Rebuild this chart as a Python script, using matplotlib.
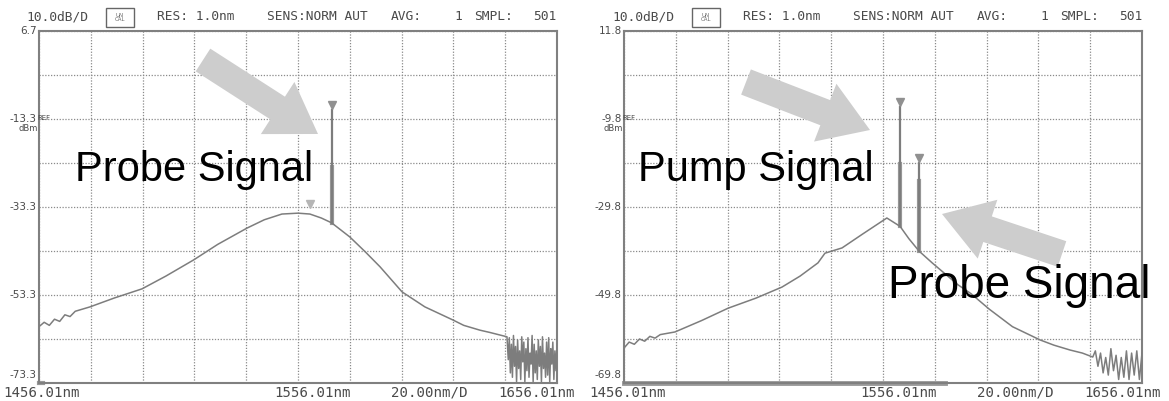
import matplotlib
matplotlib.use("Agg")
import matplotlib.pyplot as plt
from matplotlib.patches import Polygon, Rectangle
import numpy as np

W, H = 1169, 401

# ---------------- data ----------------
# Left panel: ASE spectrum with probe signal
left_wl = [1456.0, 1458, 1460, 1462, 1464, 1466, 1468, 1470, 1475.7, 1485, 1495.8,
           1505, 1515.8, 1525, 1536.3, 1543, 1549.8, 1556, 1560.6, 1565, 1569.0,
           1576, 1582, 1587.7, 1596.2, 1605, 1615.9, 1620, 1626.3, 1630, 1636.7,
           1637.2, 1637.6, 1638, 1638.4, 1638.8, 1639.2, 1639.6, 1640, 1640.4, 1640.8,
           1641.2, 1641.6, 1642, 1642.4, 1642.8, 1643.2, 1643.6, 1644, 1644.4, 1644.8,
           1645.2, 1645.6, 1646, 1646.4, 1646.8, 1647.2, 1647.6, 1648, 1648.4, 1648.8,
           1649.2, 1649.6, 1650, 1650.4, 1650.8, 1651.2, 1651.6, 1652, 1652.4, 1652.8,
           1653.2, 1653.6, 1654, 1654.4, 1654.8, 1655.2, 1655.6, 1656.0]
left_db = [-60.5, -59.5, -60.2, -58.8, -59.3, -57.8, -58.2, -57.0, -56.0, -54.0, -51.9,
           -49.0, -45.3, -41.8, -38.1, -36.2, -34.9, -34.7, -34.9, -35.8, -36.9,
           -40.1, -43.5, -46.9, -52.6, -56.0, -59.0, -60.2, -61.3, -61.8, -62.8,
           -68, -63, -71, -64.5, -72, -62.5, -69.5, -65, -73, -63.5,
           -70, -66, -72.5, -62.8, -68.5, -64, -73, -65.5, -70.5, -63,
           -72, -66.5, -69, -62.5, -73, -64.5, -71, -66, -72.5, -63.5,
           -69.5, -65, -73, -62.8, -70, -66.5, -72, -64, -71.5, -63,
           -73, -65.5, -69, -64, -72.5, -66, -70.5, -64.5]
left_probe_wl, left_probe_base, left_probe_peak = 1569.0, -36.9, -11.3
left_marker2 = (1560.6, -32.6)

# Right panel: spectrum with pump and probe signals
right_wl = [1456.4, 1458, 1460, 1462, 1464, 1466, 1468, 1470, 1475.7, 1486, 1496.2,
            1507, 1517.0, 1524, 1530.9, 1533.6, 1540.2, 1548, 1557.5, 1562.6, 1566,
            1569.9, 1575, 1585, 1590, 1597, 1606, 1616.6, 1622, 1628.2, 1633, 1637,
            1638, 1639, 1640, 1641, 1642, 1643, 1644, 1645, 1646, 1647, 1648, 1649,
            1650, 1651, 1652, 1653, 1654, 1655, 1656]
right_db = [-61.6, -60.5, -61.0, -59.8, -60.3, -59.2, -59.6, -58.8, -58.2, -55.6, -52.8,
            -50.5, -48.0, -45.5, -42.5, -40.3, -39.1, -36.0, -32.3, -34.2, -37.0,
            -39.8, -42.5, -47.5, -49.5, -53.0, -57.0, -60.0, -61.2, -62.3, -63.0, -63.9,
            -62.5, -66, -63, -67.5, -64, -68, -62, -67, -63.5, -69, -64, -68.5,
            -62.5, -69, -63, -68, -62.5, -69, -63]
pump_wl, pump_base, pump_peak = 1562.6, -34.2, -7.1
right_probe_wl, right_probe_base, right_probe_peak = 1569.9, -39.8, -19.8

left_ylabels = ["6.7", "-13.3", "-33.3", "-53.3", "-73.3"]
right_ylabels = ["11.8", "-9.8", "-29.8", "-49.8", "-69.8"]
left_ylim = (-73.3, 6.7)
right_ylim = (-69.8, 10.2)
x_labels = ["1456.01nm", "1556.01nm", "20.00nm/D", "1656.01nm"]
header = ["10.0dB/D", "RES: 1.0nm", "SENS:NORM AUT", "AVG:", "1", "SMPL:", "501"]

TRACE = "#7d7d7d"
GRID = "#8a8a8a"
LABC = "#4a4a4a"
ARROW = "#cdcdcd"

fig = plt.figure(figsize=(W / 100, H / 100), dpi=100)
fig.patch.set_facecolor("white")


def fx(x):
    return x / W


def fy(y):
    return 1 - y / H


def make_axes(x0):
    return fig.add_axes([fx(x0), (H - 383) / H, 518 / W, 352 / H])


def setup(ax, ylim, ylabels):
    ax.set_xlim(1456.01, 1656.01)
    ax.set_ylim(*ylim)
    ax.set_xticks(np.linspace(1456.01, 1656.01, 11))
    ax.set_yticks(np.linspace(ylim[1], ylim[0], 9))
    ax.set_yticklabels([])
    ax.set_xticklabels([])
    ax.tick_params(length=0, pad=1)
    ax.grid(True, color=GRID, linestyle=(0, (1, 1.3)), linewidth=0.9)
    for s in ax.spines.values():
        s.set_color("#808080")
        s.set_linewidth(1.5)
    ax.set_axisbelow(True)
    # y labels every two divisions, placed like the OSA screen
    vals = np.linspace(ylim[1], ylim[0], 5)
    for i, (v, lab) in enumerate(zip(vals, ylabels)):
        if i == 0:
            va, dy = "bottom", -1.2
        elif i == 4:
            va, dy = "bottom", 0.6
        else:
            va, dy = "center", 0
        ax.text(-0.004, v + dy, lab, transform=ax.get_yaxis_transform(), fontsize=7.5,
                color=LABC, ha="right", va=va, clip_on=False)
    # REF / dBm annotation
    ax.text(-0.003, 0.752, "REF", transform=ax.transAxes, fontsize=5, color=LABC,
            ha="left", va="center")
    ax.text(-0.002, 0.722, "dBm", transform=ax.transAxes, fontsize=6, color=LABC,
            ha="right", va="center")


def arrow_poly(tail, tip, shaft_w, head_w, head_len):
    t = np.array(tail, float)
    p = np.array(tip, float)
    d = p - t
    u = d / np.hypot(*d)
    n = np.array([-u[1], u[0]])
    b = p - u * head_len
    pts = [t + n * shaft_w / 2, b + n * shaft_w / 2, b + n * head_w / 2, p,
           b - n * head_w / 2, b - n * shaft_w / 2, t - n * shaft_w / 2]
    return [(fx(q[0]), fy(q[1])) for q in pts]


# ---------------- left panel ----------------
axL = make_axes(39)
setup(axL, left_ylim, left_ylabels)
axL.plot(left_wl, left_db, color=TRACE, lw=1.1, zorder=3)
axL.plot([left_probe_wl, left_probe_wl], [left_probe_base, left_probe_peak], color=TRACE, lw=1.6, zorder=3)
axL.plot([left_probe_wl, left_probe_wl], [left_probe_base, -24.2], color="#9a9a9a", lw=3.0, zorder=2)
axL.plot([left_probe_wl], [left_probe_peak + 1.2], marker="v", ms=6, color="#909090", zorder=4)
axL.plot([left_marker2[0]], [left_marker2[1]], marker="v", ms=6, color="#b5b5b5", zorder=4)
axL.plot([0, 0.008], [0.0, 0.0], transform=axL.transAxes, color="#9a9a9a", lw=3, clip_on=False)

# ---------------- right panel ----------------
axR = make_axes(624)
setup(axR, right_ylim, right_ylabels)
axR.plot(right_wl, right_db, color=TRACE, lw=1.1, zorder=3)
axR.plot([pump_wl, pump_wl], [pump_base, pump_peak], color=TRACE, lw=1.6, zorder=3)
axR.plot([pump_wl, pump_wl], [pump_base, -20.0], color="#9a9a9a", lw=3.0, zorder=2)
axR.plot([right_probe_wl, right_probe_wl], [right_probe_base, right_probe_peak], color=TRACE, lw=1.6, zorder=3)
axR.plot([right_probe_wl, right_probe_wl], [right_probe_base, -24.0], color="#9a9a9a", lw=3.0, zorder=2)
axR.plot([pump_wl], [pump_peak + 1.2], marker="v", ms=6, color="#909090", zorder=4)
axR.plot([right_probe_wl], [right_probe_peak + 1.2], marker="v", ms=6, color="#909090", zorder=4)
axR.plot([0, 0.62], [0.0, 0.0], transform=axR.transAxes, color="#9a9a9a", lw=3.5, clip_on=False)

# ---------------- header / footer text ----------------
hdr_x = [26, 157, 267, 391, 454, 474, 533]
foot_x = [3, 274, 391, 498]
for off in (0, 586):
    for txt, x in zip(header, hdr_x):
        fig.text(fx(x + off), fy(17), txt, fontsize=9.3, family="DejaVu Sans Mono",
                 color=LABC, ha="left", va="center")
    fig.patches.append(Rectangle((fx(106 + off), fy(27)), 28 / W, 19 / H,
                                 transform=fig.transFigure, fill=False,
                                 edgecolor="#666666", lw=1.0))
    fig.text(fx(120 + off), fy(17.5), "UN\nCAL", fontsize=4, color="#666666",
             ha="center", va="center", linespacing=0.9)
    for txt, x in zip(x_labels, foot_x):
        fig.text(fx(x + off), fy(393), txt, fontsize=10.2, family="DejaVu Sans Mono",
                 color=LABC, ha="left", va="center")

# ---------------- arrows ----------------
for tail, tip in [((203, 60), (318, 134)), ((746, 82), (870, 130)), ((1062, 254), (942, 214))]:
    fig.patches.append(Polygon(arrow_poly(tail, tip, 27, 62, 48), closed=True,
                               transform=fig.transFigure, facecolor=ARROW,
                               edgecolor="none", zorder=5))

# ---------------- labels ----------------
fig.text(fx(75), fy(181), "Probe Signal", fontsize=30, family="Liberation Sans",
         color="black", ha="left", va="baseline", zorder=6)
fig.text(fx(638), fy(181), "Pump Signal", fontsize=30, family="Liberation Sans",
         color="black", ha="left", va="baseline", zorder=6)
fig.text(fx(888), fy(298), "Probe Signal", fontsize=33, family="Liberation Sans",
         color="black", ha="left", va="baseline", zorder=6)

fig.savefig("out.png", dpi=100, facecolor="white")
